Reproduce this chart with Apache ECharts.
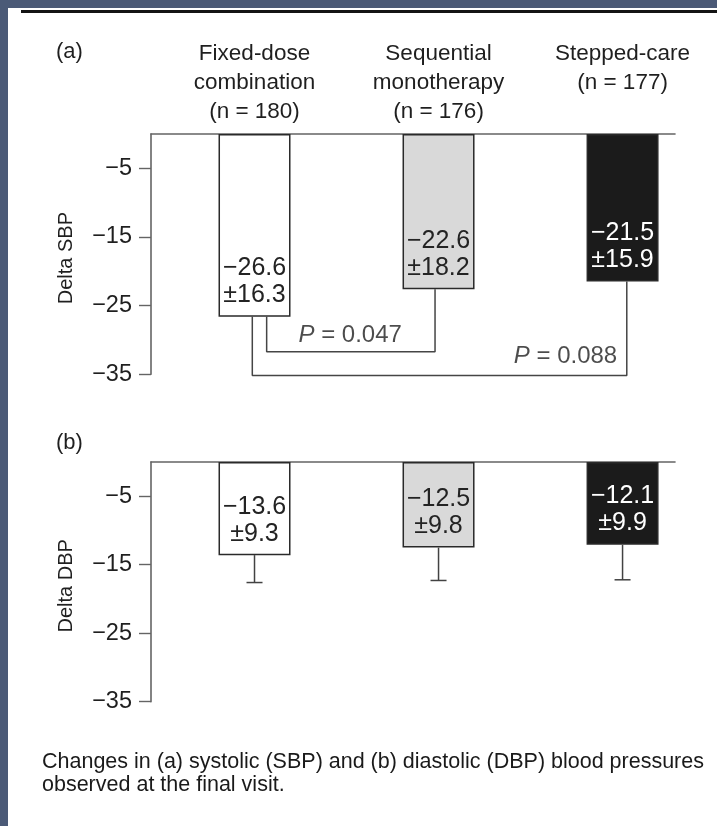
<!DOCTYPE html>
<html>
<head>
<meta charset="utf-8">
<script src="https://cdn.jsdelivr.net/npm/echarts@6/dist/echarts.min.js"></script>
<style>
  html, body { margin: 0; padding: 0; width: 717px; height: 826px; overflow: hidden; background: #4b5a77; }
  #paper { position: absolute; left: 8px; top: 8px; right: 0; bottom: 0; background: #ffffff; }
  #rule { position: absolute; left: 21px; top: 10px; right: 0; height: 3px; background: #141414; }
  #chart { position: absolute; left: 0; top: 0; width: 717px; height: 826px; }
</style>
</head>
<body>
<div id="paper"></div>
<div id="rule"></div>
<div id="chart"></div>
<script>
// ---- data ----
const categories = ['Fixed-dose\ncombination', 'Sequential\nmonotherapy', 'Stepped-care'];
const sampleSizes = [180, 176, 177];
const groupPositions = [1, 2, 3];
const sbpMean = [-26.6, -22.6, -21.5];
const sbpSD = [16.3, 18.2, 15.9];
const dbpMean = [-13.6, -12.5, -12.1];
const dbpSD = [9.3, 9.8, 9.9];
const dbpWhiskerEnd = [-17.6, -17.3, -17.2];   // error bar ends as drawn
const yTicks = [-35, -25, -15, -5];
const pValues = ['0.047', '0.088'];
// comparison brackets: [x, y] path points in data units
const bracketFixedVsSeq = [[1.066, -26.6], [1.066, -31.7], [1.981, -31.7], [1.981, -22.6]];
const bracketFixedVsStep = [[0.988, -26.6], [0.988, -35.17], [3.023, -35.17], [3.023, -21.5]];
const pLabelAnchors = [[1.52, -29.27], [2.69, -32.4]];
const captionLines = [
  'Changes in (a) systolic (SBP) and (b) diastolic (DBP) blood pressures',
  'observed at the final visit.'
];

// ---- styles ----
const FONT = "'Liberation Sans', Arial, Helvetica, sans-serif";
const TXT = '#1f1f1f';
const AXIS = '#646464';
const barFills = ['#ffffff', '#d9d9d9', '#1b1b1b'];
const barLabelColors = ['#232323', '#232323', '#ffffff'];

const minus = v => (v < 0 ? '\u2212' : '') + Math.abs(v);

function headerText(i) {
  const lines = categories[i].split('\n');
  lines.push('(n = ' + sampleSizes[i] + ')');
  while (lines.length < 3) lines.push(' ');
  return lines.join('\n');
}

function barData(means, sds) {
  return means.map((m, i) => ({
    value: [groupPositions[i], m],
    sd: sds[i],
    itemStyle: { color: barFills[i] },
    label: { color: barLabelColors[i] }
  }));
}

function xAxisFor(gridIndex, withHeaders) {
  return {
    type: 'value', gridIndex: gridIndex, position: 'top',
    min: 0.4375, max: 3.285,
    axisLine: { show: true, onZero: false, lineStyle: { color: AXIS, width: 1.6 } },
    axisTick: { show: false },
    splitLine: { show: false },
    axisLabel: withHeaders ? {
      show: true, customValues: groupPositions, margin: 8,
      fontFamily: FONT, fontSize: 22.5, lineHeight: 29, color: TXT,
      formatter: v => headerText(groupPositions.indexOf(Math.round(v)))
    } : { show: false }
  };
}

function yAxisFor(gridIndex, name) {
  return {
    type: 'value', gridIndex: gridIndex, min: -35, max: 0,
    name: name, nameLocation: 'middle', nameRotate: 90, nameGap: 75,
    nameTextStyle: { fontFamily: FONT, fontSize: 20, color: TXT, padding: [0, 8, 0, 0] },
    axisLine: { show: true, lineStyle: { color: AXIS, width: 1.6 } },
    axisTick: { show: true, length: 12, customValues: yTicks, lineStyle: { color: AXIS, width: 1.4 } },
    axisLabel: { show: true, customValues: yTicks, margin: 19, fontFamily: FONT, fontSize: 23.5, color: TXT, formatter: minus },
    splitLine: { show: false }
  };
}

const barLabel = {
  show: true, position: 'insideBottom', distance: 8,
  fontFamily: FONT, fontSize: 25, lineHeight: 27,
  formatter: p => minus(p.data.value[1]) + '\n\u00b1' + p.data.sd.toFixed(1)
};

const barCommon = {
  type: 'bar', barWidth: 72,
  itemStyle: { borderColor: '#2a2a2a', borderWidth: 1.5 },
  label: barLabel, silent: true
};

const chart = echarts.init(document.getElementById('chart'), null, { renderer: 'canvas' });
chart.setOption({
  animation: false,
  backgroundColor: 'transparent',
  title: [
    { text: '(a)', left: 56, top: 41, padding: 0, textStyle: { fontFamily: FONT, fontSize: 22, fontWeight: 'normal', color: TXT } },
    { text: '(b)', left: 56, top: 432, padding: 0, textStyle: { fontFamily: FONT, fontSize: 22, fontWeight: 'normal', color: TXT } },
    { text: captionLines.join('\n'), left: 42, top: 751, padding: 0,
      textStyle: { fontFamily: FONT, fontSize: 21.5, lineHeight: 22.5, fontWeight: 'normal', color: '#1a1a1a' } }
  ],
  grid: [
    { left: 151, top: 134, width: 524, height: 240.3 },
    { left: 151, top: 462, width: 524, height: 239.7 }
  ],
  xAxis: [xAxisFor(0, true), xAxisFor(1, false)],
  yAxis: [yAxisFor(0, 'Delta SBP'), yAxisFor(1, 'Delta DBP')],
  series: [
    Object.assign({}, barCommon, { name: 'SBP', xAxisIndex: 0, yAxisIndex: 0, data: barData(sbpMean, sbpSD) }),
    Object.assign({}, barCommon, { name: 'DBP', xAxisIndex: 1, yAxisIndex: 1, data: barData(dbpMean, dbpSD) }),
    {
      type: 'line', xAxisIndex: 0, yAxisIndex: 0, data: bracketFixedVsSeq, symbol: 'none', clip: false,
      lineStyle: { color: '#454545', width: 1.5 }, silent: true, z: 1
    },
    {
      type: 'line', xAxisIndex: 0, yAxisIndex: 0, data: bracketFixedVsStep, symbol: 'none', clip: false,
      lineStyle: { color: '#454545', width: 1.5 }, silent: true, z: 1
    },
    {
      type: 'scatter', xAxisIndex: 0, yAxisIndex: 0, data: pLabelAnchors, symbolSize: 0, silent: true, clip: false,
      label: {
        show: true, position: 'inside', fontFamily: FONT, fontSize: 24, color: TXT,
        formatter: p => '{i|P} = ' + pValues[p.dataIndex],
        rich: { i: { fontStyle: 'italic', fontFamily: FONT, fontSize: 24, color: TXT } }
      }
    },
    {
      type: 'custom', xAxisIndex: 1, yAxisIndex: 1, silent: true, clip: false, z: 1,
      data: dbpMean.map((m, i) => [groupPositions[i], m, dbpWhiskerEnd[i]]),
      renderItem: function (params, api) {
        const a = api.coord([api.value(0), api.value(1)]);
        const b = api.coord([api.value(0), api.value(2)]);
        const half = 8;
        const st = { stroke: '#424242', lineWidth: 1.5 };
        return {
          type: 'group',
          children: [
            { type: 'line', shape: { x1: a[0], y1: a[1], x2: b[0], y2: b[1] }, style: st },
            { type: 'line', shape: { x1: b[0] - half, y1: b[1], x2: b[0] + half, y2: b[1] }, style: st }
          ]
        };
      }
    }
  ]
});
</script>
</body>
</html>
